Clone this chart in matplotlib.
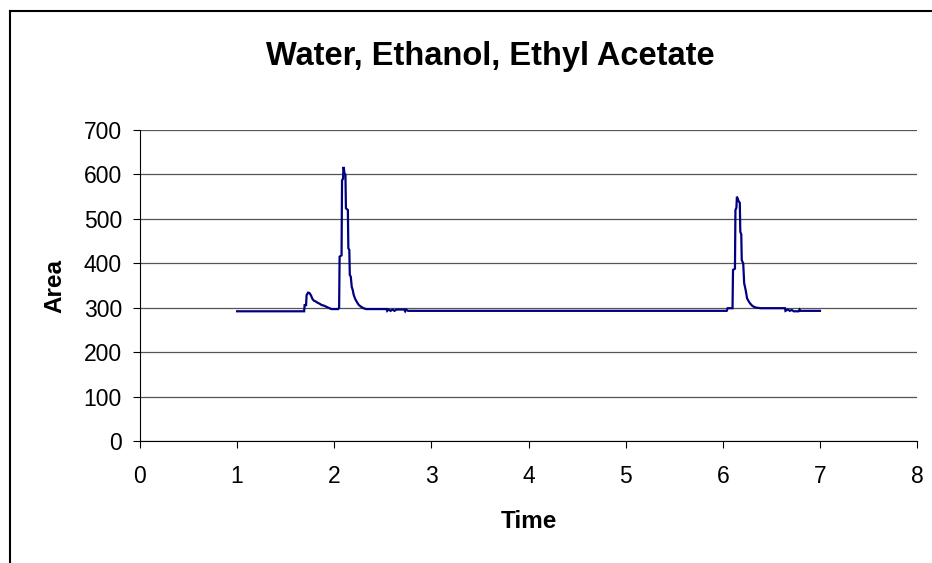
import matplotlib
matplotlib.use("Agg")
import matplotlib.pyplot as plt
from matplotlib.lines import Line2D

# chromatogram trace
time = [1.00, 1.69, 1.695, 1.71, 1.715, 1.73, 1.745, 1.76, 1.775, 1.79, 1.81, 1.83,
        1.85, 1.87, 1.89, 1.92, 1.94, 1.97, 2.00, 2.04, 2.05,
        2.055, 2.075, 2.08, 2.09, 2.095, 2.10, 2.105, 2.115, 2.12, 2.14, 2.145,
        2.155, 2.16, 2.17, 2.18, 2.19, 2.20, 2.215, 2.23, 2.25, 2.27, 2.30, 2.33,
        2.54, 2.545, 2.56, 2.58, 2.60, 2.62, 2.64, 2.72, 2.73, 2.74, 2.76,
        6.04, 6.05, 6.10,
        6.105, 6.125, 6.13, 6.14, 6.145, 6.155, 6.16, 6.175, 6.18, 6.19, 6.195,
        6.21, 6.22, 6.235, 6.25, 6.265, 6.28, 6.30, 6.32, 6.35, 6.39, 6.64,
        6.645, 6.67, 6.69, 6.71, 6.73, 6.78, 6.79, 6.80, 7.00]
area = [292, 292, 306, 306, 328, 334, 333, 328, 320, 316, 314, 311,
        309, 306, 305, 302, 300, 297, 297, 297, 300,
        415, 418, 587, 590, 617, 612, 602, 600, 524, 520, 434,
        430, 374, 370, 347, 340, 329, 320, 314, 307, 303, 299, 297,
        297, 293, 296, 293, 296, 293, 296, 296, 292, 296, 293,
        293, 299, 299,
        385, 388, 520, 525, 550, 545, 541, 536, 471, 465, 407,
        400, 355, 340, 321, 315, 310, 305, 302, 300, 299, 299,
        293, 296, 293, 295, 292, 292, 296, 293, 293]

x_ticks = [0, 1, 2, 3, 4, 5, 6, 7, 8]
y_ticks = [0, 100, 200, 300, 400, 500, 600, 700]

plt.rcParams["font.family"] = ["Liberation Sans", "DejaVu Sans"]

fig = plt.figure(figsize=(9.32, 5.63), dpi=100)
ax = fig.add_axes([0.1502, 0.2167, 0.8338, 0.5523])

ax.plot(time, area, color="#000080", linewidth=1.6, solid_joinstyle="miter")

ax.set_xlim(0, 8)
ax.set_ylim(0, 700)
ax.set_xticks(x_ticks)
ax.set_yticks(y_ticks)
ax.tick_params(axis="both", labelsize=16.5, direction="out", length=5, width=0.8, color="black")
ax.tick_params(axis="x", pad=12)
ax.tick_params(axis="y", pad=8)
ax.yaxis.grid(True, color="#555555", linewidth=0.9)
ax.set_axisbelow(True)
for s in ["top", "right"]:
    ax.spines[s].set_visible(False)
for s in ["left", "bottom"]:
    ax.spines[s].set_color("black")
    ax.spines[s].set_linewidth(0.8)

fig.text(490 / 932, 1 - 56 / 563, "Water, Ethanol, Ethyl Acetate", fontsize=23.5,
         fontweight="bold", ha="center", va="center")
ax.set_xlabel("Time", fontsize=17.5, fontweight="bold")
ax.set_ylabel("Area", fontsize=17.5, fontweight="bold")
ax.xaxis.set_label_coords(0.5, -0.26)
ax.yaxis.set_label_coords(-0.109, 0.5)
ax.xaxis.label.set_va("center")
ax.yaxis.label.set_va("center")

# chart-area border (top and left edges are visible in the picture)
fig.add_artist(Line2D([10 / 932, 10 / 932], [0, 1 - 11 / 563], transform=fig.transFigure,
                      color="black", linewidth=1.5))
fig.add_artist(Line2D([10 / 932, 1], [1 - 11 / 563, 1 - 11 / 563], transform=fig.transFigure,
                      color="black", linewidth=1.5))

fig.savefig("out.png", dpi=100, facecolor="white")
